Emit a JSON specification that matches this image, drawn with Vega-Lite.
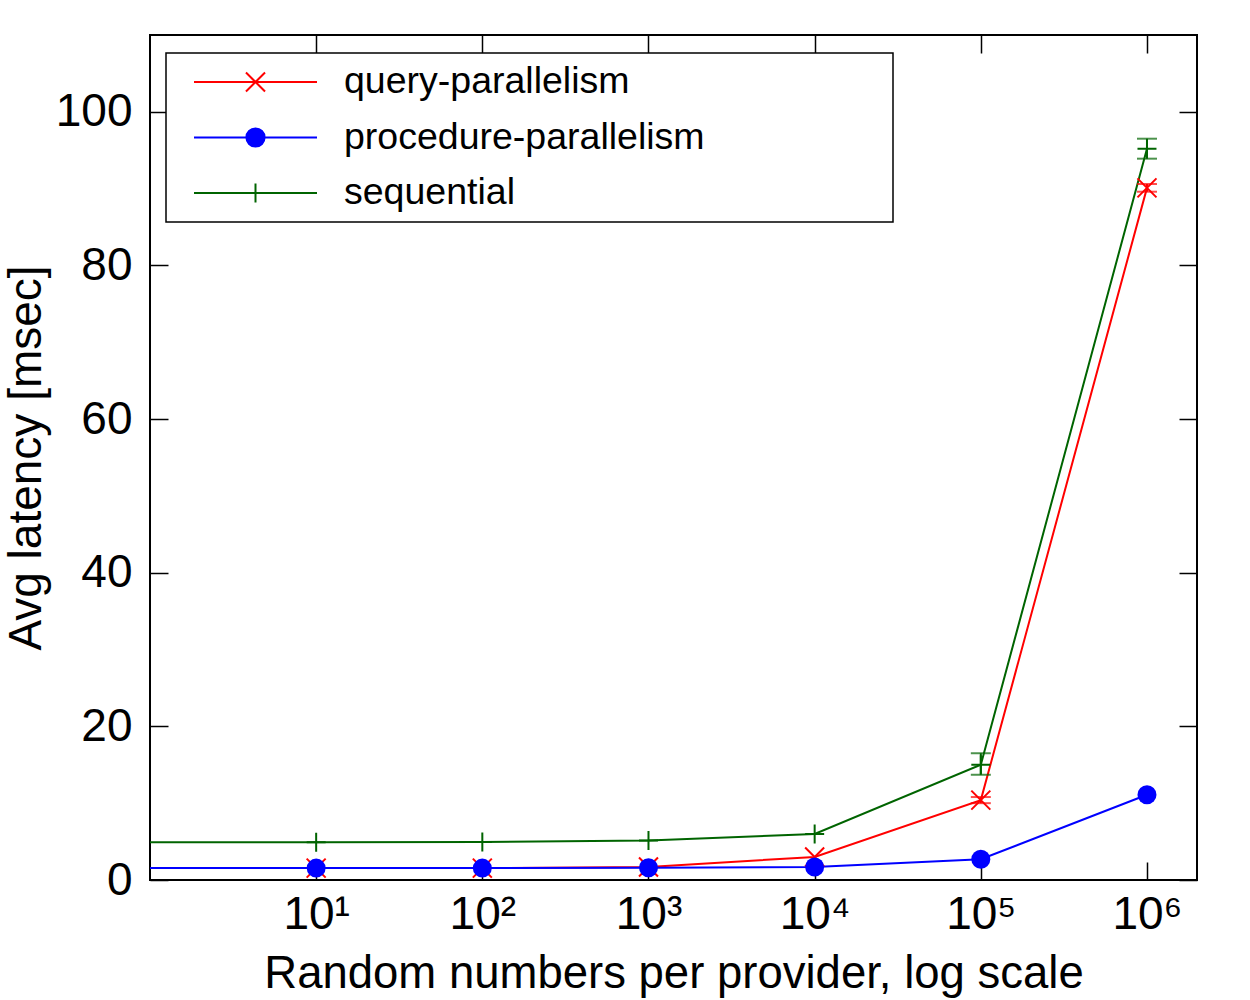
{
  "$schema": "https://vega.github.io/schema/vega-lite/v6.json",
  "autosize": {"type": "none"},
  "padding": {"left": 150, "top": 35, "right": 53, "bottom": 120},
  "width": 1047,
  "height": 845,
  "background": "white",
  "config": {
    "font": "Liberation Sans",
    "view": {"stroke": "black", "strokeWidth": 2},
    "axis": {"domain": false, "grid": false, "tickColor": "black", "tickWidth": 1.5, "labelColor": "black", "titleColor": "black", "labelFont": "Liberation Sans", "titleFont": "Liberation Sans", "titleFontWeight": "normal"}
  },
  "data": {
    "values": [
      {"n": 1, "latency": 1.55, "series": "query-parallelism"},
      {"n": 10, "latency": 1.55, "series": "query-parallelism"},
      {"n": 100, "latency": 1.55, "series": "query-parallelism"},
      {"n": 1000, "latency": 1.7, "series": "query-parallelism"},
      {"n": 10000, "latency": 3.0, "series": "query-parallelism"},
      {"n": 100000, "latency": 10.4, "series": "query-parallelism", "lo": 10.0, "hi": 10.8},
      {"n": 1000000, "latency": 90.1, "series": "query-parallelism", "lo": 89.6, "hi": 90.6},
      {"n": 1, "latency": 1.55, "series": "procedure-parallelism"},
      {"n": 10, "latency": 1.55, "series": "procedure-parallelism"},
      {"n": 100, "latency": 1.55, "series": "procedure-parallelism"},
      {"n": 1000, "latency": 1.6, "series": "procedure-parallelism"},
      {"n": 10000, "latency": 1.7, "series": "procedure-parallelism"},
      {"n": 100000, "latency": 2.7, "series": "procedure-parallelism"},
      {"n": 1000000, "latency": 11.1, "series": "procedure-parallelism"},
      {"n": 1, "latency": 4.9, "series": "sequential"},
      {"n": 10, "latency": 4.9, "series": "sequential"},
      {"n": 100, "latency": 4.95, "series": "sequential"},
      {"n": 1000, "latency": 5.15, "series": "sequential"},
      {"n": 10000, "latency": 6.0, "series": "sequential"},
      {"n": 100000, "latency": 15.0, "series": "sequential", "lo": 13.7, "hi": 16.5},
      {"n": 1000000, "latency": 95.2, "series": "sequential", "lo": 93.9, "hi": 96.5}
    ]
  },
  "resolve": {"axis": {"x": "independent", "y": "independent"}},
  "layer": [
    {
      "mark": {"type": "line", "strokeWidth": 2, "clip": true},
      "encoding": {
        "x": {"field": "n", "type": "quantitative",
          "scale": {"type": "log", "domain": [1, 2000000], "nice": false},
          "axis": {"orient": "bottom", "values": [10, 100, 1000, 10000, 100000, 1000000], "tickSize": -18, "labelPadding": 30, "labelFontSize": 46, "labelFlush": false, "labelOverlap": false,
            "labelExpr": "'10' + ['⁰','¹','²','³','⁴','⁵','⁶'][round(log(datum.value)/LN10)]",
            "title": "Random numbers per provider, log scale", "titleFontSize": 45.5, "titlePadding": 14}},
        "y": {"field": "latency", "type": "quantitative",
          "scale": {"domain": [0, 110], "nice": false, "zero": true},
          "axis": {"orient": "left", "values": [0, 20, 40, 60, 80, 100], "tickSize": -18, "labelPadding": 36, "labelFontSize": 46, "labelFlush": false,
            "title": "Avg latency [msec]", "titleFontSize": 46, "titlePadding": 5}},
        "color": {"field": "series", "type": "nominal",
          "scale": {"domain": ["query-parallelism", "procedure-parallelism", "sequential"], "range": ["#ff0000", "#0000ff", "#006400"]},
          "sort": ["query-parallelism", "procedure-parallelism", "sequential"],
          "legend": {
            "orient": "none", "legendX": 16, "legendY": 18,
            "title": " ", "titleOrient": "right", "titleFontSize": 2, "titlePadding": 181,
            "fillColor": "white", "strokeColor": "black",
            "padding": 7, "symbolOffset": 20, "labelOffset": 26, "clipHeight": 44,
            "symbolSize": 15129, "symbolStrokeWidth": 2, "rowPadding": 11.5,
            "labelFontSize": 37.5, "labelFont": "Liberation Sans", "labelColor": "black", "labelLimit": 600,
            "encode": {
              "legend": {"update": {"strokeWidth": {"value": 1.5}}},
              "symbols": {"update": {
                "fill": {"scale": "color", "field": "value"},
                "stroke": {"scale": "color", "field": "value"},
                "shape": {"signal": "datum.value === 'query-parallelism' ? 'M-1,0H1M-0.155,-0.155L0.155,0.155M-0.155,0.155L0.155,-0.155' : datum.value === 'procedure-parallelism' ? 'M-1,0H1M0.148,0A0.148,0.148 0 1,1 -0.148,0A0.148,0.148 0 1,1 0.148,0Z' : 'M-1,0H1M0,-0.155V0.155'"}
              }}
            }
          }}
      }
    },
    {
      "transform": [{"filter": "isValid(datum.lo)"}],
      "mark": {"type": "rule", "strokeWidth": 2},
      "encoding": {
        "x": {"field": "n", "type": "quantitative", "axis": null},
        "y": {"field": "lo", "type": "quantitative", "axis": null},
        "y2": {"field": "hi"},
        "color": {"field": "series", "type": "nominal", "legend": null}
      }
    },
    {
      "transform": [{"filter": "isValid(datum.lo)"}],
      "mark": {"type": "tick", "orient": "horizontal", "size": 20, "thickness": 2},
      "encoding": {
        "x": {"field": "n", "type": "quantitative", "axis": null},
        "y": {"field": "lo", "type": "quantitative", "axis": null},
        "color": {"field": "series", "type": "nominal", "legend": null}
      }
    },
    {
      "transform": [{"filter": "isValid(datum.hi)"}],
      "mark": {"type": "tick", "orient": "horizontal", "size": 20, "thickness": 2},
      "encoding": {
        "x": {"field": "n", "type": "quantitative", "axis": null},
        "y": {"field": "hi", "type": "quantitative", "axis": null},
        "color": {"field": "series", "type": "nominal", "legend": null}
      }
    },
    {
      "transform": [{"filter": "datum.series === 'query-parallelism' && datum.n >= 10"}],
      "mark": {"type": "point", "shape": "M-1,-1L1,1M-1,1L1,-1", "size": 361, "filled": false, "strokeWidth": 2, "color": "#ff0000", "opacity": 1},
      "encoding": {
        "x": {"field": "n", "type": "quantitative", "axis": null},
        "y": {"field": "latency", "type": "quantitative", "axis": null}
      }
    },
    {
      "transform": [{"filter": "datum.series === 'procedure-parallelism' && datum.n >= 10"}],
      "mark": {"type": "point", "shape": "circle", "size": 361, "filled": true, "color": "#0000ff", "opacity": 1},
      "encoding": {
        "x": {"field": "n", "type": "quantitative", "axis": null},
        "y": {"field": "latency", "type": "quantitative", "axis": null}
      }
    },
    {
      "transform": [{"filter": "datum.series === 'sequential' && datum.n >= 10"}],
      "mark": {"type": "point", "shape": "M-1,0H1M0,-1V1", "size": 361, "filled": false, "strokeWidth": 2, "color": "#006400", "opacity": 1},
      "encoding": {
        "x": {"field": "n", "type": "quantitative",
          "axis": {"orient": "top", "values": [10, 100, 1000, 10000, 100000, 1000000], "tickSize": -18, "labels": false, "title": null}},
        "y": {"field": "latency", "type": "quantitative",
          "axis": {"orient": "right", "values": [0, 20, 40, 60, 80, 100], "tickSize": -18, "labels": false, "title": null}}
      }
    }
  ]
}
